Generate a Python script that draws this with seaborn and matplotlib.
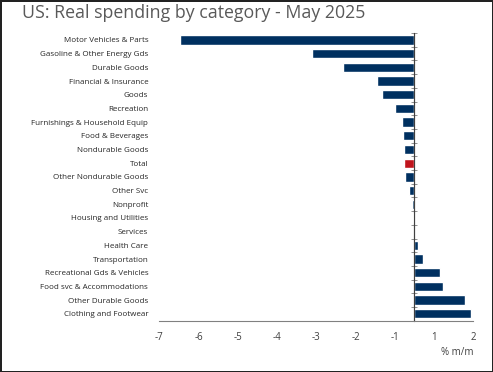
import matplotlib
matplotlib.use("Agg")
import matplotlib.pyplot as plt
import seaborn as sns
import pandas as pd

# Data (% m/m, real spending, May 2025)
categories = [
    "Motor Vehicles & Parts", "Gasoline & Other Energy Gds", "Durable Goods",
    "Financial & Insurance", "Goods", "Recreation", "Furnishings & Household Equip",
    "Food & Beverages", "Nondurable Goods", "Total", "Other Nondurable Goods",
    "Other Svc", "Nonprofit", "Housing and Utilities", "Services", "Health Care",
    "Transportation", "Recreational Gds & Vehicles", "Food svc & Accommodations",
    "Other Durable Goods", "Clothing and Footwear",
]
values = [-5.97, -2.62, -1.83, -0.95, -0.82, -0.49, -0.31, -0.28, -0.26, -0.26, -0.23,
          -0.15, -0.06, -0.03, -0.02, 0.09, 0.21, 0.65, 0.72, 1.30, 1.43]
tick_labels = ["-7", "-6", "-5", "-4", "-3", "-2", "-1", "1", "2"]

df = pd.DataFrame({"category": categories, "value": values})
colors = ["#c0141c" if c == "Total" else "#003060" for c in categories]

sns.set_style("white")
plt.rcParams["font.family"] = ["Open Sans", "DejaVu Sans"]

fig = plt.figure(figsize=(4.93, 3.72), dpi=100)
ax = fig.add_axes([0.3231, 0.138, 0.637, 0.773])

sns.barplot(data=df, x="value", y="category", hue="category", palette=colors,
            orient="h", width=0.68, legend=False, ax=ax, saturation=1)

ax.set_xlim(-6.5, 1.5)
ax.set_ylim(len(categories) - 0.5, -0.5)

# x ticks as printed on the original chart
ax.set_xticks([-6.5 + i for i in range(len(tick_labels))])
ax.set_xticklabels(tick_labels)
ax.tick_params(axis="x", direction="in", length=3, color="#808080", labelsize=7,
               labelcolor="#404040", pad=8)
ax.tick_params(axis="y", length=0, labelsize=5.8, labelcolor="#262626", pad=8)
ax.set_xlabel("")
ax.set_ylabel("")

for s in ["top", "right", "left"]:
    ax.spines[s].set_visible(False)
ax.spines["bottom"].set_color("#808080")
ax.spines["bottom"].set_linewidth(0.8)

# zero line with category ticks
ax.axvline(0, color="#404040", linewidth=0.8, zorder=5)
zero_frac = (0 - ax.get_xlim()[0]) / (ax.get_xlim()[1] - ax.get_xlim()[0])
zax = ax.secondary_yaxis(zero_frac)
zax.set_yticks([i - 0.5 for i in range(len(categories) + 1)])
zax.set_yticklabels([])
zax.tick_params(direction="inout", length=4, color="#808080", width=0.6)

ax.text(1.0, -0.09, "% m/m", transform=ax.transAxes, ha="right", va="top",
        fontsize=7, color="#404040")

fig.text(0.045, 0.99, "US: Real spending by category - May 2025", ha="left", va="top",
         fontsize=12.8, color="#595959")

fig.patch.set_edgecolor("#222222")
fig.patch.set_linewidth(2)

fig.savefig("out.png", dpi=100)
